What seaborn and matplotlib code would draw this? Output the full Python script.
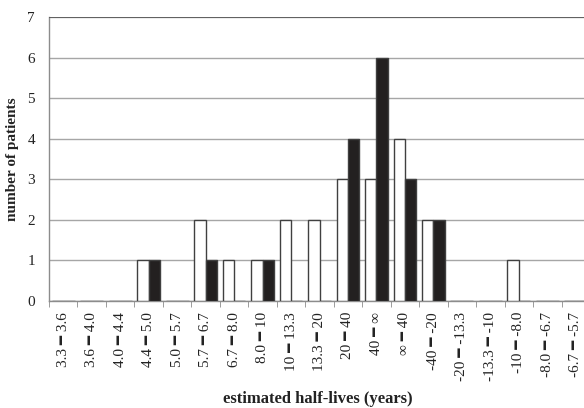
import numpy as np
import pandas as pd
import matplotlib
matplotlib.use('Agg')
import matplotlib.pyplot as plt
import seaborn as sns

categories = ['3.3 \u2501 3.6', '3.6 \u2501 4.0', '4.0 \u2501 4.4', '4.4 \u2501 5.0', '5.0 \u2501 5.7',
              '5.7 \u2501 6.7', '6.7 \u2501 8.0', '8.0 \u2501 10', '10 \u2501 13.3', '13.3 \u2501 20',
              '20 \u2501 40', '40 \u2501 \u221e', '\u221e \u2501 40', '-40 \u2501 -20', '-20 \u2501 -13.3',
              '-13.3 \u2501 -10', '-10 \u2501 -8.0', '-8.0 \u2501 -6.7', '-6.7 \u2501 -5.7']
series_names = ['open', 'filled']
open_counts = [0, 0, 0, 1, 0, 2, 1, 1, 2, 2, 3, 3, 4, 2, 0, 0, 1, 0, 0]
filled_counts = [0, 0, 0, 1, 0, 1, 0, 1, 0, 0, 4, 6, 3, 2, 0, 0, 0, 0, 0]

df = pd.DataFrame({
    'category': categories * 2,
    'series': [series_names[0]] * len(categories) + [series_names[1]] * len(categories),
    'count': open_counts + filled_counts,
})

sns.set_style('white')
plt.rcParams['font.family'] = ['Liberation Serif', 'DejaVu Sans']

fig = plt.figure(figsize=(5.84, 4.08), dpi=100)
ax = fig.add_axes([49 / 584, 1 - 301 / 408, (590 - 49) / 584, (301 - 17) / 408])

sns.barplot(data=df, x='category', y='count', hue='series', order=categories,
            hue_order=series_names, palette={'open': 'white', 'filled': '#231f20'},
            edgecolor='#404040', linewidth=1.0, width=0.8, legend=False, ax=ax, zorder=3)

ax.set_ylim(0, 7)
ax.set_xlim(-0.5, len(categories) - 0.5)
ax.set_yticks(range(0, 8))
ax.yaxis.grid(True, color='#a6a6a6', linewidth=1.0, zorder=0)
ax.axhline(7, color='#555555', linewidth=1.2, zorder=4)
for side in ['top', 'right']:
    ax.spines[side].set_visible(False)
for side in ['left', 'bottom']:
    ax.spines[side].set_color('#8c8c8c')
    ax.spines[side].set_linewidth(1.0)

ax.set_xticks(np.arange(-0.5, len(categories), 1), minor=True)
ax.tick_params(axis='x', which='minor', length=4, color='#8c8c8c', direction='out', bottom=True)
ax.tick_params(axis='x', which='major', length=0, pad=8)
ax.tick_params(axis='y', length=0, pad=10, labelsize=11, labelcolor='#222222')
ax.set_xticks(range(len(categories)))
ax.set_xticklabels(categories, rotation=90, fontsize=11, color='#222222')

ax.set_ylabel('number of patients', fontsize=11, fontweight='bold', color='#222222', labelpad=6)
ax.set_xlabel('estimated half-lives (years)', fontsize=12, fontweight='bold', color='#222222')
ax.xaxis.set_label_coords((318 - 49) / (590 - 49), -0.318)

fig.savefig('out.png', dpi=100)
